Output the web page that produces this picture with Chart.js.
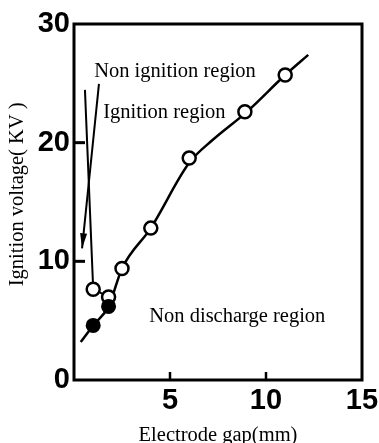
<!DOCTYPE html>
<html><head><meta charset="utf-8">
<script src="https://cdn.jsdelivr.net/npm/chart.js@4.4.1/dist/chart.umd.min.js"></script>
<style>html,body{margin:0;padding:0;background:#fff}</style>
</head><body>
<canvas id="c" width="379" height="443"></canvas>
<script>
// ---- data (Electrode gap mm, Ignition voltage kV) ----
const openX   = [1.0, 1.8, 2.5, 4.0, 6.0, 8.9, 11.0];
const openY   = [7.65, 7.0, 9.4, 12.8, 18.7, 22.6, 25.7];
const filledX = [1.0, 1.8];
const filledY = [4.6, 6.2];
const curveX  = [0.35, 1.0, 1.8, 2.5, 4.0, 6.0, 7.2, 9.0, 11.0, 12.2];
const curveY  = [3.2, 4.6, 6.2, 9.4, 12.8, 18.3, 20.2, 22.6, 25.7, 27.4];
const linkX   = [1.0, 1.8];
const linkY   = [7.65, 7.0];
const boundX  = [0.57, 1.0];
const boundY  = [24.45, 7.65];
const arrowX  = [1.30, 0.42];
const arrowY  = [24.96, 11.1];
const xTickValues = [0, 5, 10, 15];
const yTickValues = [0, 10, 20, 30];
const regionNames = ['Non ignition region', 'Ignition region', 'Non discharge region'];
const regionAtX   = [1.05, 1.52, 3.92];
const regionAtY   = [25.5, 22.1, 4.9];

const pts = (xs, ys) => xs.map((x, i) => ({x, y: ys[i]}));
const BLACK = '#000';
const SERIF = "'Liberation Serif', 'Times New Roman', serif";
const SANS = "'Liberation Sans', Arial, sans-serif";

const decor = {
  id: 'decor',
  afterDatasetsDraw(chart) {
    const {ctx, chartArea: a, scales: {x, y}} = chart;
    ctx.save();
    ctx.strokeStyle = BLACK;
    ctx.lineWidth = 3;
    ctx.strokeRect(a.left, a.top, a.right - a.left, a.bottom - a.top);
    // inner tick marks
    ctx.lineWidth = 3;
    yTickValues.slice(1, -1).forEach(v => {
      const py = y.getPixelForValue(v);
      ctx.beginPath(); ctx.moveTo(a.left, py); ctx.lineTo(a.left + 11, py); ctx.stroke();
    });
    ctx.lineWidth = 2.5;
    xTickValues.slice(1, -1).forEach(v => {
      const px = x.getPixelForValue(v);
      ctx.beginPath(); ctx.moveTo(px, a.bottom); ctx.lineTo(px, a.bottom - 8); ctx.stroke();
    });
    // arrowhead
    const n = arrowX.length;
    const x1 = x.getPixelForValue(arrowX[n - 2]), y1 = y.getPixelForValue(arrowY[n - 2]);
    const x2 = x.getPixelForValue(arrowX[n - 1]), y2 = y.getPixelForValue(arrowY[n - 1]);
    const ang = Math.atan2(y2 - y1, x2 - x1);
    const L = 15, W = 3.5;
    ctx.fillStyle = BLACK;
    ctx.beginPath();
    ctx.moveTo(x2, y2);
    ctx.lineTo(x2 - L * Math.cos(ang) + W * Math.sin(ang), y2 - L * Math.sin(ang) - W * Math.cos(ang));
    ctx.lineTo(x2 - L * Math.cos(ang) - W * Math.sin(ang), y2 - L * Math.sin(ang) + W * Math.cos(ang));
    ctx.closePath(); ctx.fill();
    // region labels
    ctx.font = '20.5px ' + SERIF;
    ctx.textAlign = 'left';
    ctx.textBaseline = 'alphabetic';
    regionNames.forEach((t, i) => {
      ctx.fillText(t, x.getPixelForValue(regionAtX[i]), y.getPixelForValue(regionAtY[i]));
    });
    ctx.restore();
  }
};

const lineDs = (xs, ys, w, order) => ({
  type: 'line', data: pts(xs, ys), borderColor: BLACK, borderWidth: w,
  pointRadius: 0, fill: false, order, showLine: true
});

new Chart(document.getElementById('c'), {
  type: 'scatter',
  data: {
    datasets: [
      { data: pts(filledX, filledY), pointRadius: 7.5, backgroundColor: BLACK, borderColor: BLACK, borderWidth: 0, order: 0 },
      { data: pts(openX, openY), pointRadius: 6.5, backgroundColor: '#fff', borderColor: BLACK, borderWidth: 2.5, order: 1 },
      Object.assign(lineDs(curveX, curveY, 2.5, 2), { tension: 0.4, cubicInterpolationMode: 'monotone' }),
      lineDs(linkX, linkY, 2, 3),
      lineDs(boundX, boundY, 2, 3),
      lineDs(arrowX, arrowY, 2, 3)
    ]
  },
  options: {
    responsive: false,
    animation: false,
    devicePixelRatio: 1,
    layout: { padding: { top: 24, right: 17, bottom: 0, left: 0 } },
    plugins: { legend: { display: false }, tooltip: { enabled: false } },
    scales: {
      x: {
        type: 'linear', min: 0, max: 15,
        afterBuildTicks(s) { s.ticks = xTickValues.map(v => ({value: v})); },
        ticks: { callback: v => v === 0 ? '' : String(v), color: BLACK, padding: 4, maxRotation: 0, autoSkip: false,
                 font: { family: SANS, weight: 'bold', size: 29 } },
        grid: { display: false, drawTicks: false },
        border: { display: false },
        title: { display: true, text: 'Electrode gap(mm)', color: BLACK, font: { family: SERIF, size: 20.5 }, padding: { top: 0, bottom: -5 } },
        afterFit(s) { s.height = 63; s.paddingRight = 0; s.paddingLeft = 0; }
      },
      y: {
        type: 'linear', min: 0, max: 30,
        afterBuildTicks(s) { s.ticks = yTickValues.map(v => ({value: v})); },
        ticks: { color: BLACK, padding: 4, autoSkip: false, font: { family: SANS, weight: 'bold', size: 29 } },
        grid: { display: false, drawTicks: false },
        border: { display: false },
        title: { display: true, text: '   Ignition voltage( KV )', color: BLACK, font: { family: SERIF, size: 20.5 }, padding: { top: 5, bottom: 0 } },
        afterFit(s) { s.width = 74; }
      }
    }
  },
  plugins: [decor]
});
</script>
</body></html>
